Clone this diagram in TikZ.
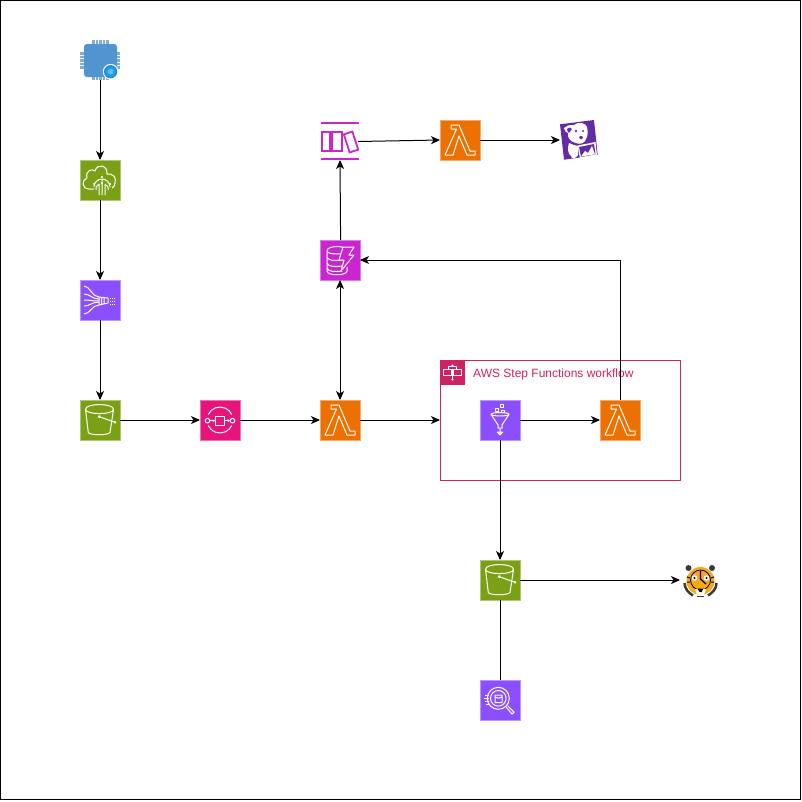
\documentclass[tikz,border=0pt]{standalone}
\usepackage{fontspec}
\setmainfont{Liberation Sans}
\definecolor{chipblue}{HTML}{5294CF}
\definecolor{badgeblue}{HTML}{1BA0EE}
\definecolor{badgering}{HTML}{2E7FC4}
\definecolor{storegreen}{HTML}{7AA116}
\definecolor{dataviolet}{HTML}{8C4FFF}
\definecolor{pipepink}{HTML}{E7157B}
\definecolor{computeorange}{HTML}{ED7100}
\definecolor{dbmagenta}{HTML}{C925D1}
\definecolor{stepred}{HTML}{CD2264}
\definecolor{dogpurple}{HTML}{632CA6}
\definecolor{tigerorange}{HTML}{F6A81C}
\definecolor{tigerdark}{HTML}{3A3A3A}
\usetikzlibrary{arrows.meta, positioning}
\tikzset{
  tile/.style={fill=#1, draw=#1!60!white, line width=1pt, minimum size=40pt, inner sep=0pt, outer sep=0pt},
  slot/.style={minimum size=40pt, inner sep=0pt, outer sep=0pt},
  flow/.style={-{Stealth[length=9pt,width=8pt,inset=2.5pt]}, line width=1pt, color=black},
  ico/.style={draw=white, line width=1pt, line join=round},
  bucketicon/.pic={
    \draw[ico] (-14.5,-10.7) .. controls (-14.5,-17) and (13.5,-17) .. (13.5,-10.7) .. controls (13.5,-5) and (-14.5,-5) .. (-14.5,-10.7)
      -- (-11.7,12.5) .. controls (-10,15.5) and (8,15.5) .. (10,12.5) -- (13.5,-10.7);
    \draw[ico] (-.7,-3.3) circle (1pt) -- (15,2.3) circle (.8pt);
  },
  lambdaicon/.pic={
    \draw[ico] (-9,-15) -- (-1,-15) -- (10,11) -- (15,11) -- (15,15) -- (7,15) -- (-1,-4) -- (-7,15) -- (-15,15) -- (-3.5,-11) -- (-9,-11) -- cycle;
  },
  cloudicon/.pic={
    \draw[ico] (-6,9) -- (-11,9) .. controls (-18,9) and (-19,0) .. (-13,-2) .. controls (-15,-9) and (-8,-12) .. (-5,-9)
      .. controls (-3,-17) and (8,-15) .. (7,-6) .. controls (13,-7) and (17,-2) .. (15,3) .. controls (15,5) and (14,7) .. (12,8);
    \draw[ico] (-6,7) arc[start angle=180,end angle=360,radius=8];
    \draw[ico] (-4,10) -- (-4,7) -- (-1,4) -- (-1,15) (2,-1) -- (2,15) (5,4) -- (5,15) (8,10) -- (8,7) -- (5,4);
    \foreach \dotx/\doty in {-6/4,2/-3,10/4,2/3}
      \fill[white] (\dotx,\doty) circle (1.2pt);
  },
  hoseicon/.pic={
    \draw[ico] (-1,-3) -- (8,-2) -- (8,3) -- (-1,5) -- cycle (1.5,-3) -- (1.5,5) (4,-2.5) -- (4,4);
    \foreach \hosey/\hoseend in {-14/-3,-6/-1,0/1,6/2,14/5}
      \draw[ico] (-16,\hosey) .. controls (-10,\hosey) and (-8,\hoseend) .. (-1,\hoseend);
    \foreach \spray in {-2,1,4}
      \draw[ico,densely dotted] (10,\spray) -- (15,\spray);
  },
  pipesicon/.pic={
    \draw[ico] (155:13) arc[start angle=155,end angle=25,radius=13];
    \draw[ico] (205:13) arc[start angle=205,end angle=335,radius=13];
    \draw[ico] (-12.5,.7) circle (2.3pt) (12.5,.7) circle (2.3pt);
    \draw[ico] (-4.5,-4) rectangle (4.5,5);
    \draw[ico,-{Stealth[length=2.5pt,width=3pt]}] (-10,.7) -- (-5,.7);
    \draw[ico,-{Stealth[length=2.5pt,width=3pt]}] (5,.7) -- (10,.7);
  },
  dynamoicon/.pic={
    \draw[ico] (-13,-9) .. controls (-13,-15) and (7,-15) .. (7,-9) .. controls (7,-5) and (-13,-5) .. (-13,-9);
    \draw[ico] (-13,-9) -- (-13,11) .. controls (-13,16) and (7,16) .. (7,11) -- (7,7);
    \foreach \bandy in {-3,3,8}
      \draw[ico] (-13,\bandy) .. controls (-12,\bandy+4) and (-4,\bandy+4) .. (2,\bandy+3);
    \draw[ico,fill=dbmagenta] (3,-13) -- (14,-13) -- (9,-5) -- (14,-5) -- (1,11) -- (4,0) -- (-1,0) -- cycle;
  },
  streamicon/.pic={
    \fill[dbmagenta] (-19.5,-17.7) rectangle (18.5,-15.7);
    \fill[dbmagenta] (-19.5,18.3) rectangle (18.5,20.3);
    \draw[draw=dbmagenta,line width=1.8pt] (-18.3,-8.3) rectangle (-10,10.7) (-7.7,-8.3) rectangle (1.7,10.7);
    \draw[draw=dbmagenta,line width=1.8pt,rotate around={18:(11,2)}] (6.5,-7.5) rectangle (15.5,11.5);
  },
  funnelicon/.pic={
    \draw[ico] (-9,-5.7) .. controls (-9,-8) and (9,-8) .. (9,-5.7) .. controls (9,-3.5) and (-9,-3.5) .. (-9,-5.7)
      -- (-2,5) -- (-2,8) -- (2,8) -- (2,5) -- (9,-5.7);
    \draw[ico] (0,9) -- (0,15) (-3,12) -- (0,15) -- (3,12) (-3,12) -- (3,12);
    \draw[ico,line width=.7pt] (.5,-15.5) rectangle (3,-13) (-4.8,-11.5) rectangle (-2,-8.7) (1.5,-10) rectangle (4.2,-7.5);
  },
  flowicon/.pic={
    \draw[ico] (0,-7) -- (0,7);
    \draw[ico,fill=stepred] (-8.7,-3.3) rectangle (-1.5,3.3) (1.3,-2.7) rectangle (9,2.7);
    \draw[ico,fill=stepred] (-4,-6) rectangle (4,-3.5);
    \fill[white] (0,-7) circle (1.2pt) (0,7) circle (1.2pt);
  },
  athenaicon/.pic={
    \draw[ico] (-1.7,-1.7) circle (11pt) (-1.7,-1.7) circle (7.8pt);
    \draw[ico] (-5,-5) -- (-5,2.5) -- (2,2.5) -- (2,-5) -- cycle (-5,-3) .. controls (-3,-1.5) and (0,-1.5) .. (2,-3);
    \draw[ico] (6.2,7.2) -- (12,14) -- (14,12.2) -- (7.5,5.5);
    \foreach \speedy/\speedx in {-5/-15,-2/-16,1/-15,4/-14}
      \draw[ico] (\speedx,\speedy) -- (-11,\speedy);
  },
  chipicon/.pic={
    \foreach \pinat in {-7,-3.5,0,3.5,7} {
      \fill[chipblue!75!white] (\pinat+.5-1.1,-20) rectangle (\pinat+.5+1.1,20);
      \fill[chipblue!75!white] (-20,\pinat+.5-1.1) rectangle (20,\pinat+.5+1.1);
    }
    \fill[chipblue,rounded corners=3pt] (-16,-16) rectangle (17,17);
    \fill[white] (10.6,11.7) circle (7.8pt);
    \draw[badgering,fill=badgeblue,line width=1.2pt] (10.6,11.7) circle (6pt);
    \fill[badgeblue!70!white] (10.6,11.7) circle (2.8pt);
  },
  dogicon/.pic={
    \fill[dogpurple] (-20,-15.7) -- (14,-20) -- (17.7,15) -- (-16,19.7) -- cycle;
    \fill[white] (-16,-12) .. controls (-11,-16) and (-8,-15) .. (-6,-15) .. controls (-2,-19) and (6,-17) .. (7,-13)
      .. controls (8,-8) and (8,-4) .. (6,-1) .. controls (5,3) and (0,5) .. (-4,3) .. controls (-9,2) and (-13,-2) .. (-12,-7) .. controls (-14,-8) and (-16,-9) .. (-16,-12);
    \fill[white] (-11,3) .. controls (-8,4) and (-5,6) .. (-2,6) -- (-2,15) .. controls (-4,19) and (-9,19) .. (-9,16) .. controls (-12,14) and (-13,8) .. (-11,3);
    \fill[dogpurple] (-4,-9) circle (1.3pt) (3,-9) circle (1.1pt);
    \fill[dogpurple] (-1,-3) .. controls (1,-5) and (4,-4) .. (3,-2) .. controls (2,0) and (0,0) .. (-1,-3);
    \fill[dogpurple] (-13,-11) .. controls (-11,-13) and (-9,-13) .. (-8,-11) .. controls (-9,-9) and (-11,-8) .. (-11,-7) .. controls (-12,-8) and (-13,-9) .. (-13,-11);
    \fill[white] (-2.5,5.5) -- (15.5,2) -- (17,15.5) -- (0,18.5) -- cycle;
    \fill[dogpurple] (-1,7) -- (14,4) -- (15.5,14.3) -- (1,17) -- cycle;
    \fill[white] (1,16.5) -- (5,11) -- (8,13) -- (12,6) -- (15,14.3) -- cycle;
  },
  tigericon/.pic={
    \fill[tigerdark] (-11.5,-12) circle (3pt) (12,-12) circle (3pt);
    \fill[tigerorange] (.5,1) circle (14pt);
    \draw[black,line width=.8pt] (.5,0) circle (10pt);
    \fill[white] (-5.5,-2) circle (2.8pt) (6.5,-2) circle (2.8pt);
    \fill[black] (-5.5,-2) circle (1.2pt) (6.5,-2) circle (1.2pt);
    \draw[black,line width=1.2pt] (.5,-9) -- (.5,-1) -- (6,4);
    \draw[tigerdark,line width=2.5pt] (-15.5,3) .. controls (-15.5,9) and (-11,13) .. (-7,15.5);
    \draw[tigerdark,line width=2.5pt] (16.5,3) .. controls (16.5,9) and (12,13) .. (8,15.5);
    \fill[white] (-5,9) -- (6,9) -- (4,15) -- (-3,15) -- cycle;
    \fill[black] (-2.5,8.5) -- (3.5,8.5) -- (1.5,12) -- (-.5,12) -- cycle;
    \draw[tigerdark,line width=1pt] (-3,16) -- (4,16);
    \draw[black,line width=1pt] (-13,-3) -- (-10,-2) (14,-3) -- (11,-2) (-13,2) -- (-10,2) (14,2) -- (11,2);
  },
}

\begin{document}
\begin{tikzpicture}[x=1pt,y=-1pt,node distance=80pt]
\useasboundingbox (0,0) rectangle (802,801);
\draw[black,line width=1pt] (.5,.5) rectangle (800.5,799.5);
\node[slot] (chip) at (100,60) {};
\node[tile=storegreen,below=of chip] (iotcore) {};
\node[tile=dataviolet,below=of iotcore] (firehose) {};
\node[tile=storegreen,below=of firehose] (bucketraw) {};
\node[tile=pipepink,right=of bucketraw] (pipes) {};
\node[tile=computeorange,right=of pipes] (lambdaingest) {};
\node[tile=dbmagenta,above=120pt of lambdaingest] (dynamo) {};
\node[slot,above=of dynamo] (stream) {};
\node[tile=computeorange,right=of stream] (lambdaship) {};
\node[slot,right=of lambdaship] (datadog) {};
\node[draw=stepred,line width=1pt,minimum width=240pt,minimum height=120pt,outer sep=0pt] (stepgroup) at (560,420) {};
\node[tile=stepred,draw=none,minimum size=25pt,anchor=north west] (grouptile) at (stepgroup.north west) {};
\node[anchor=west,inner sep=0pt,text=stepred,font=\fontsize{12}{14}\selectfont] (grouptitle) at (473,374) {AWS Step Functions workflow};
\node[tile=dataviolet] (glue) at (500,420) {};
\node[tile=computeorange,right=of glue] (lambdaload) {};
\node[tile=storegreen,below=120pt of glue] (bucketout) {};
\node[slot,right=160pt of bucketout] (tiger) {};
\node[tile=dataviolet,below=of bucketout] (athena) {};
\foreach \where/\what in {chip/chipicon,iotcore/cloudicon,firehose/hoseicon,bucketraw/bucketicon,pipes/pipesicon,
  lambdaingest/lambdaicon,dynamo/dynamoicon,stream/streamicon,lambdaship/lambdaicon,datadog/dogicon,
  grouptile/flowicon,glue/funnelicon,lambdaload/lambdaicon,bucketout/bucketicon,tiger/tigericon,athena/athenaicon}
  \pic at (\where) {\what};
\draw[flow] (chip)--(iotcore);\draw[flow] (iotcore)--(firehose);\draw[flow] (firehose)--(bucketraw);
\draw[flow] (bucketraw)--(pipes);\draw[flow] (pipes)--(lambdaingest);
\draw[flow,{Stealth[length=9pt,width=8pt,inset=2.5pt]}-{Stealth[length=9pt,width=8pt,inset=2.5pt]}] (lambdaingest)--(dynamo);
\draw[flow] ([xshift=.6pt]dynamo.north)--(stream.south);
\draw[flow] ([xshift=-2pt,yshift=-1.5pt]stream.east)--(lambdaship.west);
\draw[flow] (lambdaship)--(datadog);
\draw[flow] (lambdaingest)--(stepgroup.west);
\draw[flow] (glue)--(lambdaload);
\draw[flow] (lambdaload.north)|-(dynamo.east);
\draw[flow] (glue)--(bucketout);
\draw[flow] (bucketout)--(tiger.west);
\draw[line width=1pt] (bucketout)--(athena);
\end{tikzpicture}
\end{document}
